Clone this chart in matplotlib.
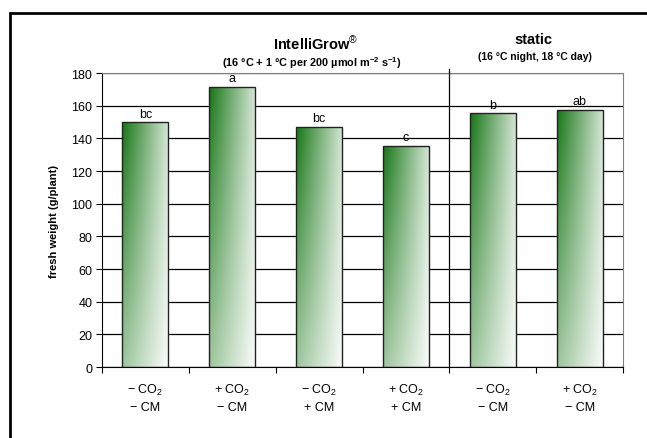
import matplotlib
matplotlib.use('Agg')
import matplotlib.pyplot as plt
from matplotlib.patches import Rectangle
import numpy as np

plt.rcParams['font.family'] = ['Liberation Sans', 'DejaVu Sans']
plt.rcParams['mathtext.fontset'] = 'custom'
plt.rcParams['mathtext.rm'] = 'Liberation Sans'
plt.rcParams['mathtext.it'] = 'Liberation Sans:italic'
plt.rcParams['mathtext.bf'] = 'Liberation Sans:bold'

# data
co2 = ['\u2212 CO$_2$', '+ CO$_2$', '\u2212 CO$_2$', '+ CO$_2$', '\u2212 CO$_2$', '+ CO$_2$']
cm = ['\u2212 CM', '\u2212 CM', '+ CM', '+ CM', '\u2212 CM', '\u2212 CM']
fresh_weight = [150, 171.5, 147, 135.5, 155.5, 157.5]
letters = ['bc', 'a', 'bc', 'c', 'b', 'ab']
yticks = list(range(0, 181, 20))

fig = plt.figure(figsize=(6.47, 4.39), dpi=100)
ax = fig.add_axes([0.1577, 0.1617, 0.963 - 0.1577, 0.8314 - 0.1617])

# outer frame (cut at right and bottom)
fig.patches.append(Rectangle((10 / 647, -0.05), 1.1, 1 - 14 / 439 + 0.05,
                             transform=fig.transFigure, fill=False,
                             edgecolor='black', lw=2))

# gradient for bars: dark green top-left, white bottom-right
green = np.array([22, 118, 22]) / 255.0
gx, gy = np.meshgrid(np.linspace(0, 1, 80), np.linspace(0, 1, 80))
t = (1.0 * (1 - gx) * gy + 0.18 * gx * gy +
     0.42 * (1 - gx) * (1 - gy) + 0.02 * gx * (1 - gy))
grad = 1 - t[..., None] * (1 - green)

x = np.arange(len(fresh_weight))
width = 0.53
bars = ax.bar(x, fresh_weight, width, facecolor='none', edgecolor='#222222',
              lw=1.0, zorder=3)
for b in bars:
    x0 = b.get_x()
    h = b.get_height()
    im = ax.imshow(grad, extent=[x0, x0 + width, 0, h], origin='lower',
                   aspect='auto', zorder=2.5, interpolation='bilinear')
    im.set_clip_path(b)

for xi, v, s in zip(x, fresh_weight, letters):
    ax.text(xi, v + 1.5, s, ha='center', va='bottom', fontsize=9)

ax.set_xlim(-0.5, 5.5)
ax.set_ylim(0, 180)
ax.set_yticks(yticks)
ax.tick_params(axis='y', direction='out', length=4, labelsize=9, pad=3)
ax.yaxis.grid(True, color='black', lw=0.9)
ax.set_axisbelow(True)

ax.set_xticks(np.arange(-0.5, 6, 1))
ax.set_xticklabels([])
ax.tick_params(axis='x', which='major', direction='out', length=4)
ax.set_xticks(x, minor=True)
ax.set_xticklabels([a + '\n' + b for a, b in zip(co2, cm)], minor=True,
                   fontsize=9, linespacing=1.35)
ax.tick_params(axis='x', which='minor', length=0, pad=11)

for side in ['top', 'right']:
    ax.spines[side].set_color('#808080')
for side in ['left', 'bottom']:
    ax.spines[side].set_color('black')

# divider between treatments
ax.plot([3.5, 3.5], [0, 182.5], color='black', lw=0.9, clip_on=False, zorder=4)

ax.set_ylabel('fresh weight (g/plant)', fontsize=8, fontweight='bold', labelpad=9)

fig.text(316 / 647, 1 - 44 / 439, 'IntelliGrow$^{\\circledR}$', ha='center',
         va='center', fontsize=10.5, fontweight='bold')
fig.text(312 / 647, 1 - 63 / 439,
         '(16 \u00b0C + 1 \u00b0C per 200 \u00b5mol m$^{\\mathbf{-2}}$ s$^{\\mathbf{-1}}$)',
         ha='center', va='center', fontsize=7.8, fontweight='bold')
fig.text(533 / 647, 1 - 40 / 439, 'static', ha='center', va='center',
         fontsize=10.5, fontweight='bold')
fig.text(535 / 647, 1 - 57 / 439, '(16 \u00b0C night, 18 \u00b0C day)',
         ha='center', va='center', fontsize=7.5, fontweight='bold')

fig.savefig('out.png', dpi=100)
